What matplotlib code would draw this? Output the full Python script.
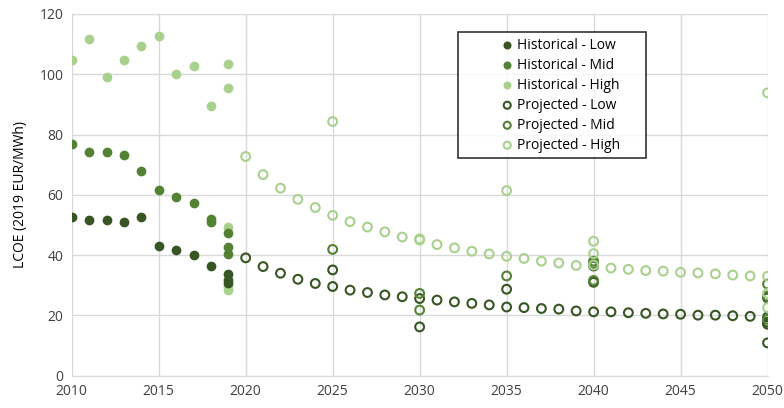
import matplotlib.pyplot as plt

plt.rcParams['font.family'] = ['Open Sans', 'DejaVu Sans']

# Colours for the three scenario bands
c_low = '#375623'
c_mid = '#548235'
c_high = '#A9D18E'

# Historical data (filled markers)
hist_low_x = [2010, 2011, 2012, 2013, 2014, 2015, 2016, 2017, 2018, 2019, 2019, 2019]
hist_low_y = [52.6, 51.8, 51.8, 51.0, 52.6, 42.9, 41.8, 40.2, 36.4, 33.8, 31.6, 30.8]

hist_mid_x = [2010, 2011, 2012, 2013, 2014, 2015, 2016, 2017, 2018, 2018, 2019, 2019, 2019]
hist_mid_y = [77.0, 74.1, 74.1, 73.3, 68.0, 61.6, 59.2, 57.2, 51.9, 50.9, 47.4, 42.7, 40.5]

hist_high_x = [2010, 2011, 2012, 2013, 2014, 2015, 2016, 2017, 2018, 2019, 2019, 2019, 2019, 2019]
hist_high_y = [104.8, 111.6, 99.1, 104.8, 109.2, 112.8, 100.1, 102.8, 89.4, 103.3, 95.5, 49.3, 29.7, 28.4]

# Projected data (open markers)
proj_low_x = list(range(2020, 2051)) + [2025, 2030, 2035, 2040, 2040, 2050, 2050, 2050, 2050]
proj_low_y = [39.1, 36.2, 34.0, 32.0, 30.6, 29.6, 28.4, 27.6, 26.8, 26.2,
              25.6, 25.1, 24.5, 24.0, 23.5, 22.8, 22.6, 22.3, 22.1, 21.5,
              21.2, 21.2, 20.9, 20.7, 20.5, 20.4, 20.1, 20.1, 19.9, 19.7,
              19.5,
              35.1, 16.2, 28.7, 36.4, 31.0, 25.8, 17.8, 17.1, 10.9]

proj_mid_x = [2025, 2030, 2030, 2035, 2040, 2040, 2040, 2050, 2050, 2050]
proj_mid_y = [41.9, 27.3, 21.8, 33.1, 38.0, 37.2, 31.6, 30.4, 26.4, 18.7]

proj_high_x = list(range(2020, 2051)) + [2025, 2030, 2035, 2040, 2040, 2050, 2050, 2050]
proj_high_y = [72.7, 66.7, 62.2, 58.5, 55.8, 53.2, 51.1, 49.3, 47.7, 46.0,
               45.4, 43.5, 42.4, 41.3, 40.4, 39.6, 38.9, 38.0, 37.4, 36.6,
               36.7, 35.7, 35.3, 34.9, 34.7, 34.3, 34.1, 33.8, 33.4, 33.1,
               33.0,
               84.3, 45.0, 61.4, 44.6, 40.5, 93.8, 27.3, 22.6]

fig = plt.figure(figsize=(7.84, 4.08), dpi=100)
ax = fig.add_axes([0.0915, 0.079, 0.8875, 0.887])

# Open markers drawn first so the filled history sits on top
ax.scatter(proj_low_x, proj_low_y, s=40, facecolors='none', edgecolors=c_low, linewidths=1.5,
           label='Projected - Low', zorder=3)
ax.scatter(proj_mid_x, proj_mid_y, s=40, facecolors='none', edgecolors=c_mid, linewidths=1.5,
           label='Projected - Mid', zorder=3)
ax.scatter(proj_high_x, proj_high_y, s=40, facecolors='none', edgecolors=c_high, linewidths=1.5,
           label='Projected - High', zorder=3)
ax.scatter(hist_high_x, hist_high_y, s=36, color=c_high, label='Historical - High', zorder=4)
ax.scatter(hist_mid_x, hist_mid_y, s=36, color=c_mid, label='Historical - Mid', zorder=4)
ax.scatter(hist_low_x, hist_low_y, s=36, color=c_low, label='Historical - Low', zorder=4)

ax.set_xlim(2010, 2050)
ax.set_ylim(0, 120)
ax.set_xticks(range(2010, 2051, 5))
ax.set_yticks(range(0, 121, 20))
ax.tick_params(length=0, labelsize=10, colors='#404040', pad=6)
ax.grid(True, color='#D9D9D9', linewidth=1)
ax.set_axisbelow(True)
for s in ax.spines.values():
    s.set_visible(False)
ax.spines['bottom'].set_visible(True)
ax.spines['bottom'].set_color('#D9D9D9')
ax.set_ylabel('LCOE (2019 EUR/MWh)', fontsize=10, color='#000000', labelpad=8)

# Legend in the original order, wide box with entries set in from the left
handles, labels = ax.get_legend_handles_labels()
order = ['Historical - Low', 'Historical - Mid', 'Historical - High',
         'Projected - Low', 'Projected - Mid', 'Projected - High']
hl = dict(zip(labels, handles))
leg = ax.legend([hl[k] for k in order], order, loc='upper left',
                bbox_to_anchor=(0.555, 0.604, 0.27, 0.345), mode='expand',
                fontsize=10, frameon=True, fancybox=False, edgecolor='black',
                handlelength=6.3, handletextpad=-2.43,
                borderpad=0.4, labelspacing=0.36, markerscale=0.8,
                borderaxespad=0)
leg.get_frame().set_linewidth(1.2)
leg.set_zorder(5)

fig.savefig('out.png', dpi=100)
